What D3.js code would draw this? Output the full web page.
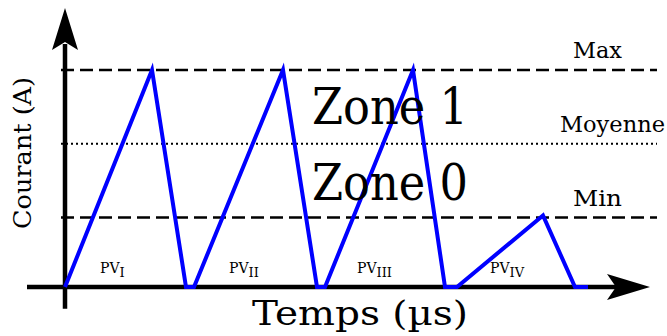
<!doctype html>
<html lang="fr">
<head>
<meta charset="UTF-8" />
<title>Courant / Temps</title>
<script src="https://d3js.org/d3.v7.min.js"></script>
<style>
  html,body{margin:0;padding:0;background:#fff;}
  svg{display:block;font-family:"DejaVu Serif",serif;}
</style>
</head>
<body>
<div id="chart"></div>
<script>
/* ── data ── */
const times    = [0, 8.7, 12.1, 12.9, 21.8, 25.2, 26.0, 34.8, 38.0, 39.2, 47.8, 51.0, 52.3]; // µs
const currents = [0, 1,   0,    0,    1,    0,    0,    1,    0,    0,    0.33, 0,    0];
const levelNames  = ['Max', 'Moyenne', 'Min'];
const levelValues = [1, 0.66, 0.32];
const levelStyles = ['dash', 'dot', 'dash'];
const zoneNames   = ['Zone 1', 'Zone 0'];
const zoneValues  = [0.75, 0.40];
const pvLabels    = ['I', 'II', 'III', 'IV'];
const pvTimes     = [3.5, 16.4, 29.2, 42.5];

const W = 667, H = 336;
const svg = d3.select('#chart').append('svg').attr('width', W).attr('height', H);

const x = d3.scaleLinear().domain([0, 58.5]).range([65, 650]);
const y = d3.scaleLinear().domain([0, 1]).range([287, 70]);

/* ── reference levels ── */
levelValues.forEach((v, i) => {
  const dashed = levelStyles[i] === 'dash';
  svg.append('line')
     .attr('x1', x(-0.4)).attr('x2', x(59.2))
     .attr('y1', y(v)).attr('y2', y(v))
     .attr('stroke', '#000')
     .attr('stroke-width', dashed ? 2.6 : 2)
     .attr('stroke-dasharray', dashed ? '13,6' : '2,3');
  const long = levelNames[i].length > 3;
  svg.append('text')
     .attr('x', long ? x(49.5) : x(50.8)).attr('y', y(v) - 12)
     .attr('textLength', long ? 105 : 49)
     .attr('lengthAdjust', 'spacingAndGlyphs')
     .style('font-size', '22px')
     .text(levelNames[i]);
});

/* ── axes ── */
const yTop = 1.286;
svg.append('line')
   .attr('x1', x(0)).attr('x2', x(0))
   .attr('y1', y(-0.1)).attr('y2', y(1.12))
   .attr('stroke', '#000').attr('stroke-width', 4.5);
svg.append('line')
   .attr('x1', x(-3.8)).attr('x2', x(55.5))
   .attr('y1', y(0)).attr('y2', y(0))
   .attr('stroke', '#000').attr('stroke-width', 4.5);

// arrowheads
const yt = y(yTop), xt = x(58.5);
svg.append('path')
   .attr('d', `M${x(0)},${yt} L${x(0)+13},${yt+42} L${x(0)},${yt+34} L${x(0)-13},${yt+42} Z`)
   .attr('fill', '#000');
svg.append('path')
   .attr('d', `M${xt},${y(0)} L${xt-43},${y(0)-13} L${xt-34},${y(0)} L${xt-43},${y(0)+13} Z`)
   .attr('fill', '#000');

/* ── current waveform ── */
const line = d3.line().x((d, i) => x(times[i])).y(d => y(d));
svg.append('path')
   .attr('d', line(currents))
   .attr('fill', 'none')
   .attr('stroke', '#0000ff')
   .attr('stroke-width', 4)
   .attr('stroke-linejoin', 'miter');

/* ── zone labels ── */
zoneNames.forEach((z, i) => {
  svg.append('text')
     .attr('x', 312).attr('y', y(zoneValues[i]))
     .attr('textLength', 156)
     .attr('lengthAdjust', 'spacingAndGlyphs')
     .style('font-size', '50px')
     .text(z);
});

/* ── PV labels ── */
pvLabels.forEach((s, i) => {
  const t = svg.append('text')
     .attr('x', x(pvTimes[i])).attr('y', 273)
     .style('font-size', '14px');
  t.append('tspan').text('PV');
  t.append('tspan').attr('dy', 4).style('font-size', '13px').text(s);
});

/* ── axis titles ── */
svg.append('text')
   .attr('x', 252).attr('y', 325)
   .attr('textLength', 216)
   .attr('lengthAdjust', 'spacingAndGlyphs')
   .style('font-size', '33px')
   .text('Temps (µs)');

svg.append('text')
   .attr('transform', `translate(31,229) rotate(-90)`)
   .attr('textLength', 152)
   .attr('lengthAdjust', 'spacingAndGlyphs')
   .style('font-size', '24px')
   .text('Courant (A)');
</script>
</body>
</html>
